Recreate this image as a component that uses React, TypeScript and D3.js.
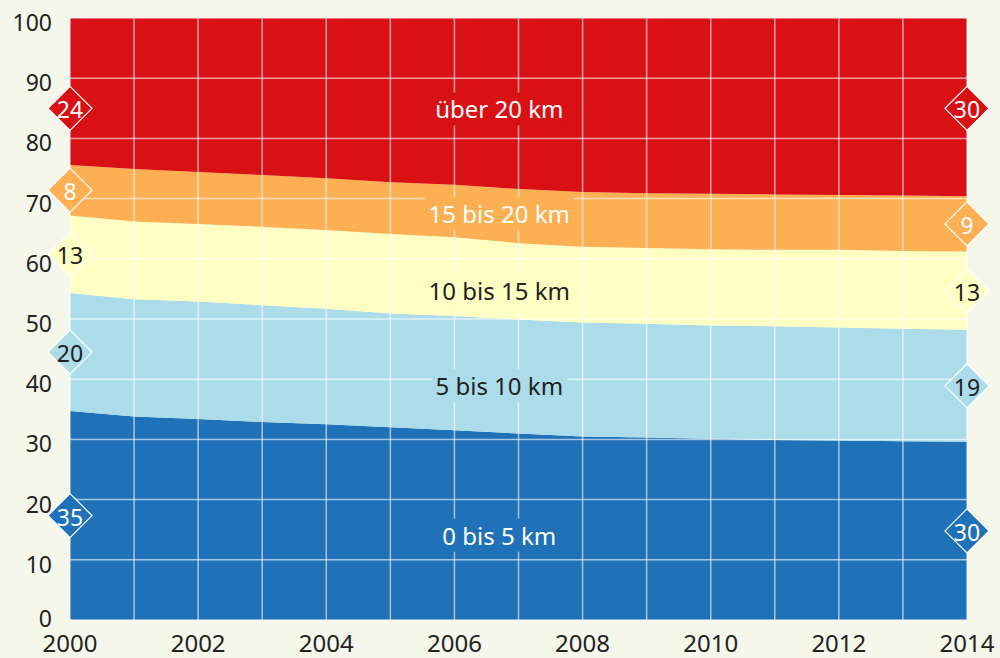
import { area, scaleLinear, select, stack, range } from "d3";
import { useEffect, useRef } from "react";

// Anteil der Wege nach Entfernung, in Prozent
const years = range(2000, 2015);
const seriesNames = ["0 bis 5 km", "5 bis 10 km", "10 bis 15 km", "15 bis 20 km", "über 20 km"];
const km0to5 = [34.7, 33.8, 33.4, 32.9, 32.5, 32.0, 31.5, 31.0, 30.5, 30.3, 30.1, 29.9, 29.8, 29.7, 29.6];
const km5to10 = [19.6, 19.5, 19.5, 19.4, 19.2, 18.9, 19.0, 18.9, 18.9, 18.9, 18.8, 18.9, 18.8, 18.7, 18.6];
const km10to15 = [12.9, 12.9, 12.9, 13.0, 13.1, 13.2, 13.1, 12.7, 12.6, 12.6, 12.7, 12.7, 12.9, 12.9, 13.0];
const km15to20 = [8.4, 8.7, 8.6, 8.6, 8.6, 8.6, 8.7, 9.0, 9.1, 9.1, 9.2, 9.2, 9.1, 9.2, 9.2];
const over20 = [24.4, 25.1, 25.6, 26.1, 26.6, 27.3, 27.7, 28.4, 28.9, 29.1, 29.2, 29.3, 29.4, 29.5, 29.6];
const yTicks = range(0, 101, 10);
const xTicks = range(2000, 2015, 2);

const colors = ["#1f71b8", "#acdcea", "#ffffc4", "#fdb053", "#d91014"];
const textColors = ["#fff", "#222", "#222", "#fff", "#fff"];
// small vertical nudges (px) of the area labels from the band middle
const labelNudge = [10, 11, 11, -1, 7];
const FONT = "'Noto Sans', sans-serif";

const W = 1000;
const H = 658;

const App = () => {
  const svgRef = useRef<SVGSVGElement>(null);

  useEffect(() => {
    const svg = select(svgRef.current);
    svg.selectAll("*").remove();

    const x = scaleLinear().domain([2000, 2014]).range([70, 967]);
    const y = scaleLinear().domain([0, 100]).range([620, 18]);

    const keys = ["a", "b", "c", "d", "e"];
    const cols = [km0to5, km5to10, km10to15, km15to20, over20];
    const rows = years.map((yr, i) => {
      const r: any = { year: yr };
      keys.forEach((k, j) => (r[k] = cols[j][i]));
      return r;
    });
    const layers = stack().keys(keys)(rows);

    svg.append("rect").attr("width", W).attr("height", H).attr("fill", "#f6f7eb");

    const ar = area<any>()
      .x((d) => x(d.data.year))
      .y0((d) => y(d[0]))
      .y1((d) => y(d[1]));

    const defs = svg.append("defs");
    layers.forEach((layer, i) => {
      defs.append("clipPath")
        .attr("id", `clip-${i}`)
        .append("path")
        .attr("d", ar(layer as any));
    });

    svg.append("g")
      .selectAll("path")
      .data(layers)
      .join("path")
      .attr("d", (d) => ar(d as any))
      .attr("fill", (_, i) => colors[i]);

    // grid
    const grid = svg.append("g").attr("stroke", "#fff").attr("stroke-opacity", 0.6).attr("stroke-width", 1.5);
    grid.selectAll(".v")
      .data(years)
      .join("line")
      .attr("x1", (d) => x(d))
      .attr("x2", (d) => x(d))
      .attr("y1", y(0))
      .attr("y2", y(100));
    grid.selectAll(".h")
      .data(yTicks)
      .join("line")
      .attr("x1", x(2000))
      .attr("x2", x(2014))
      .attr("y1", (d) => y(d))
      .attr("y2", (d) => y(d));

    // axes
    svg.append("g")
      .selectAll("text")
      .data(yTicks)
      .join("text")
      .attr("x", 52)
      .attr("y", (d) => Math.min(y(d) + 13, 627))
      .attr("text-anchor", "end")
      .attr("font-family", FONT)
      .attr("font-size", 23)
      .attr("fill", "#222")
      .text((d) => d);

    svg.append("g")
      .selectAll("text")
      .data(xTicks)
      .join("text")
      .attr("x", (d) => x(d))
      .attr("y", 652)
      .attr("text-anchor", "middle")
      .attr("font-family", FONT)
      .attr("font-size", 24)
      .attr("fill", "#222")
      .text((d) => d);

    // area labels, with a patch of the area colour behind them
    const li = 7;
    layers.forEach((layer, i) => {
      const mid = (layer[li][0] + layer[li][1]) / 2;
      const g = svg.append("g");
      const t = g.append("text")
        .attr("x", x(2006.7))
        .attr("y", y(mid) + 8 + labelNudge[i])
        .attr("text-anchor", "middle")
        .attr("font-family", FONT)
        .attr("font-size", 24)
        .attr("fill", textColors[i])
        .text(seriesNames[i]);
      const bb = (t.node() as SVGTextElement).getBBox();
      g.insert("rect", "text")
        .attr("x", bb.x - 4)
        .attr("y", bb.y)
        .attr("width", bb.width + 8)
        .attr("height", bb.height)
        .attr("fill", colors[i])
        .attr("clip-path", `url(#clip-${i})`);
    });

    // end value diamonds
    const r = 22;
    [0, years.length - 1].forEach((idx) => {
      layers.forEach((layer, i) => {
        const v = layer[idx];
        const val = v[1] - v[0];
        const cx = x(years[idx]);
        const cy = y(Math.min((v[0] + v[1]) / 2, 85));
        svg.append("path")
          .attr("d", `M${cx},${cy - r}L${cx + r},${cy}L${cx},${cy + r}L${cx - r},${cy}Z`)
          .attr("fill", colors[i])
          .attr("stroke", "#fff")
          .attr("stroke-width", 1.2);
        svg.append("text")
          .attr("x", cx)
          .attr("y", cy + 10)
          .attr("text-anchor", "middle")
          .attr("font-family", FONT)
          .attr("font-size", 23)
          .attr("fill", textColors[i])
          .text(Math.round(val));
      });
    });
  }, []);

  return (
    <svg
      ref={svgRef}
      width={W}
      height={H}
      style={{ position: "absolute", left: 0, top: 0, display: "block" }}
    />
  );
};

export default App;
